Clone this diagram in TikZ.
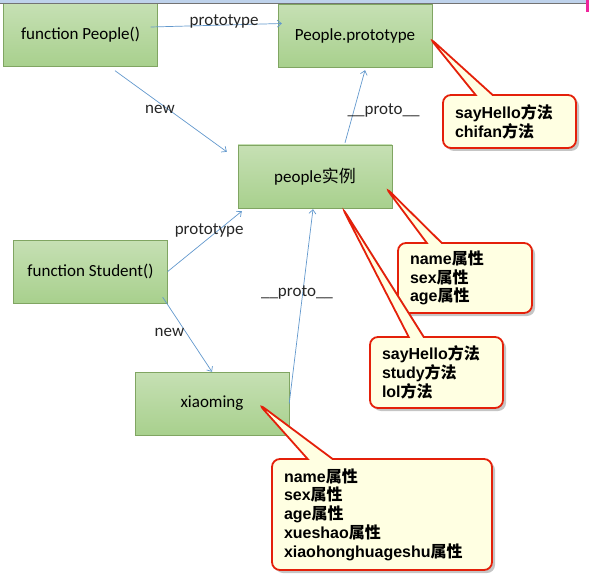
\documentclass[tikz,border=0pt]{standalone}
\usepackage{fontspec}
\setmainfont{Carlito}
\newfontfamily\notefont{Liberation Sans}
\newfontfamily\cjk{Noto Sans CJK SC}
\newcommand{\zh}[1]{{\cjk #1}}
\usetikzlibrary{arrows.meta,shapes.callouts,shadows}
\definecolor{boxtop}{RGB}{198,224,180}
\definecolor{boxbot}{RGB}{168,208,141}
\definecolor{boxline}{RGB}{128,165,98}
\definecolor{linkblue}{RGB}{98,152,205}
\definecolor{notered}{RGB}{228,32,10}
\definecolor{notefill}{RGB}{255,255,226}
\definecolor{barblue}{RGB}{190,210,235}
\tikzset{
  objbox/.style={draw=boxline,top color=boxtop,bottom color=boxbot,
    minimum width=154pt,minimum height=63pt,font=\fontsize{17}{20}\selectfont},
  link/.style={draw=linkblue,line width=.7pt,-{Straight Barb[length=4pt,width=7pt]}},
  edgetext/.style={text=black!85,font=\fontsize{17}{20}\selectfont},
  note/.style={rectangle callout,draw=notered,line width=1.8pt,fill=notefill,
    rounded corners=8pt,callout pointer width=17pt,align=left,inner xsep=12pt,
    drop shadow={fill=black!45,opacity=.5,shadow xshift=3pt,shadow yshift=-3pt},
    font=\notefont\bfseries\fontsize{16}{18.75}\selectfont}
}
\begin{document}
\begin{tikzpicture}[x=1pt,y=-1pt]
\useasboundingbox (0,0) rectangle (589,583);
% objects
\node[objbox] (fp) at (80.5,35) {function People()};
\node[objbox] (pp) at (355,35.5) {People.prototype};
\node[objbox] (pi) at (315,176.5) {people\zh{实例}};
\node[objbox] (fs) at (90.5,271.5) {function Student()};
\node[objbox] (xm) at (212,403.5) {xiaoming};
% links
\draw[link] ([xshift=-7pt,yshift=8pt]fp.east) -- node[edgetext,pos=.56,above=-7pt]{prototype} ([xshift=4pt,yshift=12pt]pp.west);
\draw[link] ([xshift=34.5pt,yshift=-4pt]fp.south) -- node[edgetext,pos=.42,xshift=-2pt,yshift=-5pt]{new} ([xshift=-11pt,yshift=-7pt]pi.north west);
\draw[link] ([xshift=30pt,yshift=2pt]pi.north) -- node[edgetext,pos=.45,right=-10pt]{\_\_proto\_\_} ([xshift=10pt,yshift=-3pt]pp.south);
\draw[link] (fs.east) -- node[edgetext,pos=.56,above=-3pt]{prototype} ([xshift=4pt,yshift=-3pt]pi.south west);
\draw[link] ([xshift=-5pt,yshift=6pt]fs.south east) -- node[edgetext,pos=.47,left=-2pt]{new} (xm.north);
\draw[link] (xm.east) -- node[edgetext,pos=.58,xshift=-6pt,yshift=-2pt]{\_\_proto\_\_} ([xshift=-2pt,yshift=-1pt]pi.south);
% notes
\node[note,callout absolute pointer={([xshift=-3pt,yshift=-2pt]pp.east)},text width=109pt,minimum height=53pt] (n1) at (509.5,121.5) {sayHello\zh{方法}\\chifan\zh{方法}};
\node[note,callout absolute pointer={([xshift=-7pt,yshift=-10.5pt]pi.east)},callout pointer width=15pt,text width=110pt,minimum height=70pt] (n2) at (465,278) {name\zh{属性}\\sex\zh{属性}\\age\zh{属性}};
\node[note,callout absolute pointer={([xshift=27pt,yshift=1pt]pi.south)},callout pointer width=15pt,text width=109pt,minimum height=71pt] (n3) at (436.5,372.5) {sayHello\zh{方法}\\study\zh{方法}\\lol\zh{方法}};
\node[note,callout absolute pointer={([xshift=-31pt]xm.east)},callout pointer width=25pt,text width=196pt,minimum height=111pt] (n4) at (382,514.5) {name\zh{属性}\\sex\zh{属性}\\age\zh{属性}\\xueshao\zh{属性}\\xiaohonghuageshu\zh{属性}};
% window edge
\fill[barblue] (0,0) rectangle (589,3);
\draw[black!55,line width=1pt] (0,3.5) -- (589,3.5);
\fill[magenta!85] (586,0) rectangle (589,12);
\end{tikzpicture}
\end{document}
